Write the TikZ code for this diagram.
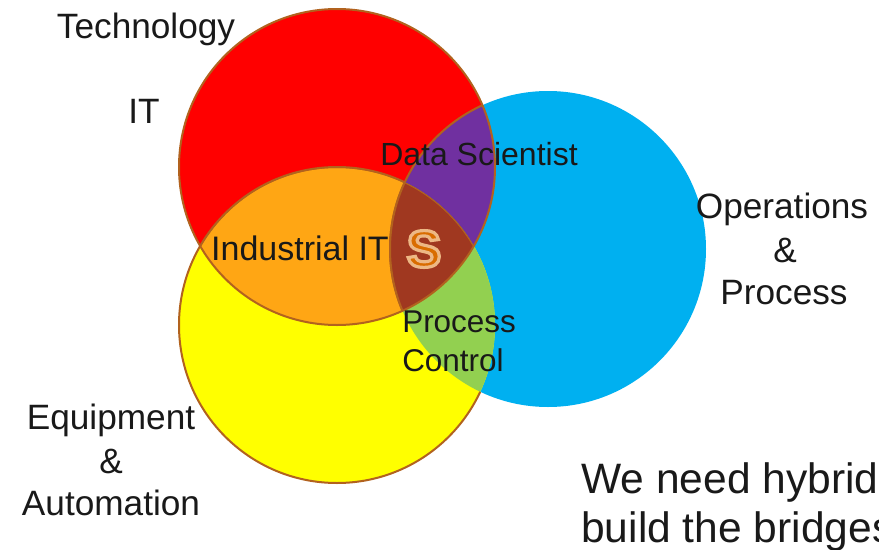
\documentclass[tikz,border=0pt]{standalone}
\usepackage{fontspec}
\setmainfont{Liberation Sans}
\usetikzlibrary{positioning}
\definecolor{techcolor}{RGB}{255, 0, 0}
\definecolor{equipcolor}{RGB}{255, 255, 0}
\definecolor{opscolor}{RGB}{0, 176, 240}
\definecolor{industrialcolor}{RGB}{255, 166, 20}
\definecolor{datacolor}{RGB}{112, 48, 160}
\definecolor{controlcolor}{RGB}{146, 208, 80}
\definecolor{corecolor}{RGB}{160, 56, 32}
\definecolor{rimcolor}{RGB}{178, 98, 30}
\def\techcircle{(337, 167) circle[radius=118.5pt]}
\def\equipcircle{(337, 325) circle[radius=118.5pt]}
\def\opscircle{(548, 249) circle[radius=118.5pt]}
\tikzset{
    label/.style={font=\fontsize{26.4pt}{30pt}\selectfont, text=black!90, inner sep=0pt},
    innerlabel/.style={font=\fontsize{23.6pt}{28pt}\selectfont, text=black!90, inner sep=0pt, anchor=west},
    bigtext/.style={font=\fontsize{31.9pt}{36pt}\selectfont, text=black!90, inner sep=0pt, anchor=base west},
    rim/.style={draw=rimcolor, line width=1.5pt}
}

\begin{document}
\begin{tikzpicture}[x=0.75pt, y=-0.75pt]
    \useasboundingbox (0, 0) rectangle (879, 550);
    \clip (0, 0) rectangle (879, 550);
    \fill[white] (0, 0) rectangle (879, 550);

    % Three circles
    \fill[opscolor] \opscircle;
    \fill[equipcolor] \equipcircle;
    \fill[techcolor] \techcircle;

    % Overlaps of two circles
    \begin{scope}
        \clip \techcircle;
        \fill[industrialcolor] \equipcircle;
    \end{scope}
    \begin{scope}
        \clip \techcircle;
        \fill[datacolor] \opscircle;
        \draw[rim] \opscircle;
    \end{scope}
    \begin{scope}
        \clip \equipcircle;
        \fill[controlcolor] \opscircle;
    \end{scope}

    % Overlap of all three
    \begin{scope}
        \clip \techcircle;
        \clip \equipcircle;
        \fill[corecolor] \opscircle;
        \draw[rim] \opscircle;
        \draw[rim] \equipcircle;
    \end{scope}

    % Outlines
    \draw[rim] \techcircle;
    \begin{scope}[even odd rule]
        \clip (0, 0) rectangle (879, 550) \opscircle;
        \draw[rim] \equipcircle;
    \end{scope}

    % Labels
    \node[label] (technology) at (146, 29) {Technology};
    \node[label] (it) at (144, 111) {IT};
    \node[font=\fontsize{24pt}{28pt}\selectfont, text=black!90, inner sep=0pt] (datasci) at (479, 154) {Data Scientist};
    \node[font=\fontsize{25.5pt}{30pt}\selectfont, text=black!90, inner sep=0pt] (industrial) at (300, 248) {Industrial IT};
    \node[label] (operations) at (782, 209) {Operations};
    \node[label] (opsamp) at (785, 250) {\&};
    \node[label] (process) at (784, 293) {Process};
    \node[innerlabel] (proc) at (402, 322) {Process};
    \node[innerlabel] (control) at (402, 360) {Control};
    \node[label] (equipment) at (111, 420) {Equipment};
    \node[label] (equipamp) at (111, 461) {\&};
    \node[label] (automation) at (111, 503) {Automation};

    % Skill badge
    \node[font=\fontsize{39pt}{40pt}\selectfont\bfseries, text=orange!85!black, inner sep=0pt] (badge) at (424, 249)
        {\special{pdf:code q 2 Tr 2.4 w 0.93 0.72 0.52 RG}S\special{pdf:code Q}};

    % Message
    \node[bigtext] (hybrid) at (581, 493) {We need hybrid};
    \node[bigtext] (bridges) at (581, 542) {build the bridges};
\end{tikzpicture}
\end{document}
